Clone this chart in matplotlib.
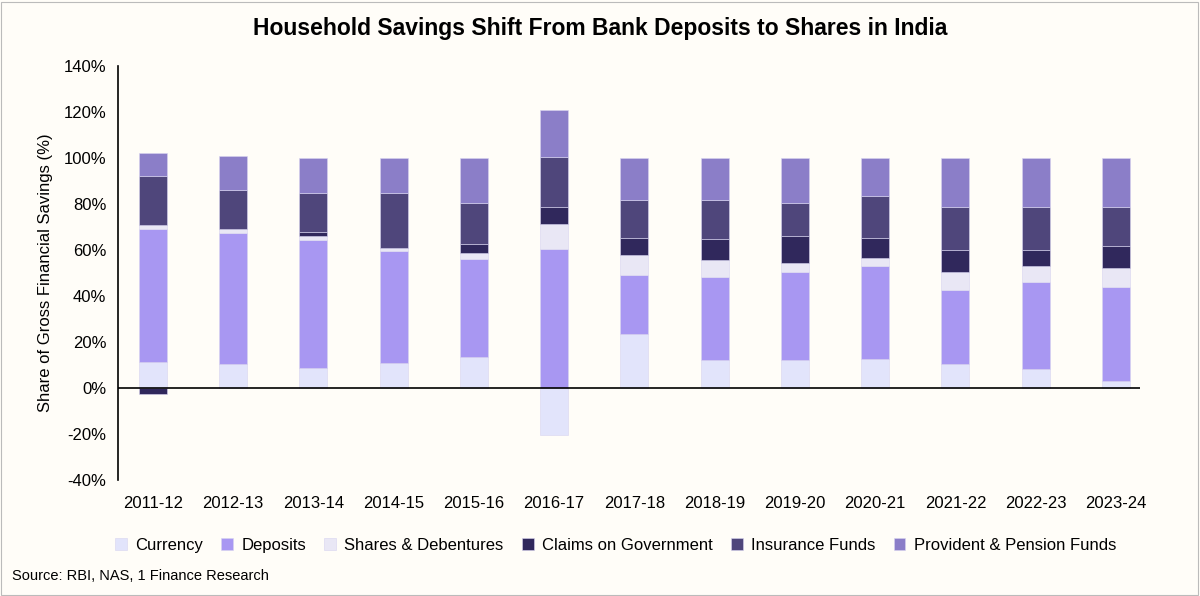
import numpy as np
import matplotlib.pyplot as plt
from matplotlib.patches import Rectangle

plt.rcParams['font.family'] = ['Liberation Sans', 'DejaVu Sans']

years = ['2011-12', '2012-13', '2013-14', '2014-15', '2015-16', '2016-17', '2017-18',
         '2018-19', '2019-20', '2020-21', '2021-22', '2022-23', '2023-24']
currency = [11.4, 10.3, 8.5, 10.7, 13.3, -20.4, 23.6, 12.3, 12.3, 12.6, 10.3, 8.2, 3.0]
deposits = [57.8, 57.3, 55.7, 48.7, 42.9, 60.4, 25.6, 36.1, 38.0, 40.3, 32.1, 37.9, 40.8]
shares = [1.8, 1.5, 1.7, 1.5, 2.3, 11.0, 8.6, 7.4, 4.0, 3.8, 7.9, 6.8, 8.4]
claims = [-2.6, 0.0, 2.0, 0.0, 4.2, 7.1, 7.5, 9.1, 11.9, 8.6, 9.8, 7.2, 9.7]
insurance = [21.2, 17.0, 16.9, 23.9, 17.7, 21.9, 16.5, 16.9, 14.2, 18.4, 18.8, 18.8, 17.0]
provident = [10.2, 14.8, 15.2, 15.2, 19.6, 20.4, 18.2, 18.2, 19.6, 16.3, 21.1, 21.1, 21.1]

series = [('Currency', currency, '#E2E4FB'),
          ('Deposits', deposits, '#A897F2'),
          ('Shares & Debentures', shares, '#E9E7F5'),
          ('Claims on Government', claims, '#30285C'),
          ('Insurance Funds', insurance, '#4F467B'),
          ('Provident & Pension Funds', provident, '#8B7EC8')]

bg = '#FFFDF8'
fig = plt.figure(figsize=(12, 5.96), dpi=100, facecolor=bg)
ax = fig.add_axes([0.098, 0.195, 0.852, 0.694], facecolor=bg)

x = np.arange(len(years))
pos_base = np.zeros(len(years))
neg_base = np.zeros(len(years))
for name, vals, color in series:
    vals = np.array(vals)
    base = np.where(vals >= 0, pos_base, neg_base)
    ax.bar(x, vals, 0.35, bottom=base, color=color, label=name,
           edgecolor='#D8D4F0', linewidth=0.4)
    pos_base += np.clip(vals, 0, None)
    neg_base += np.clip(vals, None, 0)

ax.set_ylim(-40, 140)
ax.set_xlim(-0.44, 12.3)
ax.set_yticks(range(-40, 141, 20))
ax.set_yticklabels([f'{v}%' for v in range(-40, 141, 20)], fontsize=12)
ax.set_xticks(x)
ax.set_xticklabels(years, fontsize=12)
ax.tick_params(axis='x', length=0, pad=12)
ax.tick_params(axis='y', length=0, pad=8)
for s in ['top', 'right', 'bottom']:
    ax.spines[s].set_visible(False)
ax.spines['left'].set_linewidth(1.2)
ax.axhline(0, color='black', linewidth=1.2)
ax.set_ylabel('Share of Gross Financial Savings (%)', fontsize=12, labelpad=8)

fig.suptitle('Household Savings Shift From Bank Deposits to Shares in India',
             fontsize=16.5, fontweight='bold', y=0.972)
fig.legend(loc='center', bbox_to_anchor=(0.513, 0.085), ncol=6, frameon=False,
           fontsize=12, handlelength=0.7, handleheight=0.7, columnspacing=1.1,
           handletextpad=0.5)
fig.text(0.01, 0.027, 'Source: RBI, NAS, 1 Finance Research', fontsize=10.5)
fig.patches.append(Rectangle((0.001, 0.002), 0.997, 0.995, transform=fig.transFigure,
                             fill=False, edgecolor='#BBBBBB', linewidth=0.8))

fig.savefig('out.png', dpi=100, facecolor=bg)
